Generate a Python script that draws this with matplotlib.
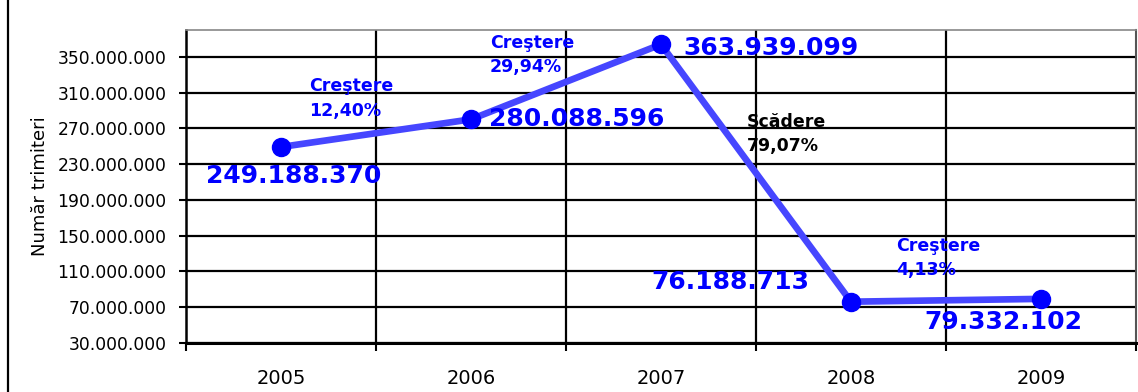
import matplotlib.pyplot as plt
from matplotlib.patches import Rectangle
from matplotlib.ticker import FuncFormatter

years = ['2005', '2006', '2007', '2008', '2009']
trimiteri = [249188370, 280088596, 363939099, 76188713, 79332102]
value_labels = ['249.188.370', '280.088.596', '363.939.099', '76.188.713', '79.332.102']
change_labels = ['Creştere\n12,40%', 'Creştere\n29,94%', 'Scădere\n79,07%', 'Creştere\n4,13%']
change_colors = ['#0000FF', '#0000FF', '#000000', '#0000FF']
y_ticks = list(range(30000000, 350000001, 40000000))

fig = plt.figure(figsize=(11.38, 3.92), dpi=100)
ax = fig.add_axes([186 / 1138, 49 / 392, 950 / 1138, 313 / 392])

x = list(range(len(years)))
ax.plot(x, trimiteri, color='#4646FF', lw=4.8, zorder=3, solid_capstyle='butt')
ax.plot(x, trimiteri, 'o', color='#0000FF', ms=13, zorder=4)

ax.set_xlim(-0.5, 4.5)
ax.set_ylim(30000000, 380000000)
ax.set_yticks(y_ticks)
ax.yaxis.set_major_formatter(FuncFormatter(lambda v, p: f'{int(v):,}'.replace(',', '.')))
ax.set_xticks(x)
ax.set_xticklabels(years)
ax.set_xticks([i + 0.5 for i in range(-1, len(years))], minor=True)
ax.tick_params(axis='x', which='major', length=0, pad=19, labelsize=14)
ax.tick_params(axis='x', which='minor', length=6, width=1.5, color='black')
ax.tick_params(axis='y', length=5, width=1.5, labelsize=12.3, pad=9)

for yv in y_ticks:
    ax.axhline(yv, color='black', lw=1.6, zorder=1)
for xb in [i + 0.5 for i in range(len(years) - 1)]:
    ax.axvline(xb, color='black', lw=1.6, zorder=1)

ax.spines['left'].set_linewidth(1.8)
ax.spines['bottom'].set_linewidth(2.2)
ax.spines['top'].set_color('#888888')
ax.spines['right'].set_color('#555555')
ax.spines['top'].set_linewidth(1.2)
ax.spines['right'].set_linewidth(1.5)

ax.set_ylabel('Număr trimiteri', fontsize=13, labelpad=6)

# value labels (offsets in points)
offsets = [(9, -21), (76, 0), (79, -2.5), (-87, 14), (-27, -17)]
for i, (dx, dy) in enumerate(offsets):
    ax.annotate(value_labels[i], (x[i], trimiteri[i]), xytext=(dx, dy),
                textcoords='offset points', ha='center', va='center',
                fontsize=18, fontweight='heavy', color='#0000FF', zorder=5)

# change labels, placed between categories
change_pos = [(0.15, 327000000), (1.1, 376000000), (2.45, 287000000), (3.24, 149000000)]
for (cx, cy), txt, col in zip(change_pos, change_labels, change_colors):
    ax.text(cx, cy, txt, ha='left', va='top', fontsize=12.5, fontweight='bold',
            color=col, linespacing=1.45, zorder=5)

fig.patches.append(Rectangle((8 / 1138, -0.2), 1.2, 1.2 + (1 - 11 / 392), transform=fig.transFigure,
                             fill=False, edgecolor='black', lw=1.6))

fig.savefig('out.png', dpi=100)
